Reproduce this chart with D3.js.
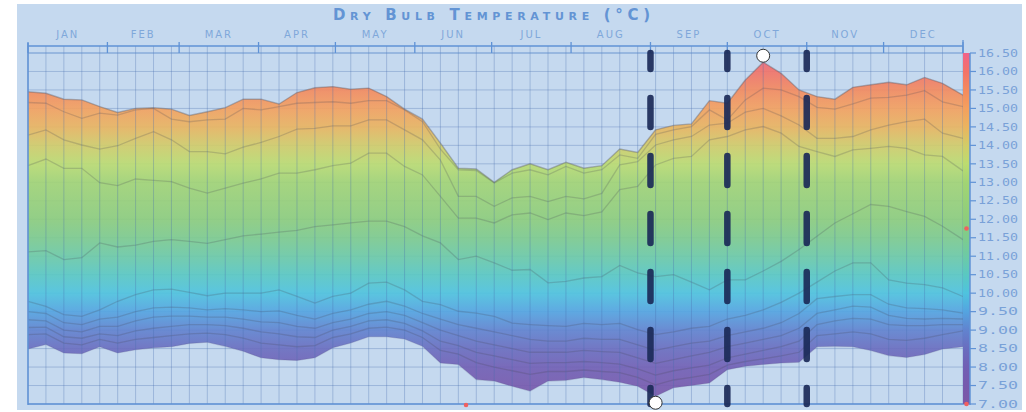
<!DOCTYPE html>
<html><head><meta charset="utf-8">
<script src="https://cdn.jsdelivr.net/npm/d3@7/dist/d3.min.js"></script>
<style>body{margin:0;background:#fff;} svg{display:block;}</style>
</head><body>
<svg id="chart" width="1026" height="412"></svg>
<script>
(function(){
// ---------- DATA ----------
const titleText = "Dry Bulb Temperature (°C)";
const months = ["JAN","FEB","MAR","APR","MAY","JUN","JUL","AUG","SEP","OCT","NOV","DEC"];
const monthStartDays = [0,31,59,90,120,151,181,212,243,273,304,334,365];
const weekDays = [0,7,14,21,28,35,42,49,56,63,70,77,84,91,98,105,112,119,126,133,140,147,154,161,168,175,182,189,196,203,210,217,224,231,238,245,252,259,266,273,280,287,294,301,308,315,322,329,336,343,350,357,365];
const yTicks = [7.0,7.5,8.0,8.5,9.0,9.5,10.0,10.5,11.0,11.5,12.0,12.5,13.0,13.5,14.0,14.5,15.0,15.5,16.0,16.5];

const maxTemp = [15.45,15.41,15.25,15.23,15.05,14.89,15.00,15.02,14.98,14.81,14.91,15.02,15.25,15.25,15.12,15.43,15.56,15.59,15.52,15.55,15.32,14.98,14.71,14.06,13.38,13.36,13.00,13.34,13.50,13.34,13.54,13.38,13.45,13.90,13.81,14.42,14.54,14.58,15.21,15.14,15.77,16.25,15.95,15.50,15.32,15.25,15.57,15.64,15.71,15.64,15.84,15.68,15.36];
const line1 = [15.16,15.14,14.91,14.73,14.87,14.82,14.96,15.00,14.71,14.64,14.69,14.71,15.00,14.96,15.05,15.14,15.16,15.18,15.14,15.21,15.21,14.96,14.64,13.90,13.34,13.32,12.98,13.25,13.34,13.20,13.43,13.25,13.34,13.74,13.65,14.30,14.42,14.51,14.96,14.69,15.23,15.55,15.50,15.32,15.03,14.98,15.12,15.28,15.30,15.36,15.48,15.18,15.05];
const line2 = [14.28,14.42,14.15,14.01,13.90,13.99,14.19,14.37,14.15,13.83,13.83,13.77,13.95,14.08,14.24,14.44,14.46,14.53,14.53,14.69,14.69,14.42,14.15,13.60,12.62,12.62,12.35,12.58,12.62,12.48,12.62,12.55,12.70,13.47,13.56,14.01,14.15,14.24,14.55,14.60,14.90,15.00,14.80,14.55,14.19,14.19,14.24,14.42,14.55,14.64,14.71,14.33,14.19];
const line3 = [13.45,13.63,13.38,13.38,12.99,12.91,13.09,13.05,13.02,12.84,12.71,12.84,12.98,13.09,13.25,13.25,13.34,13.45,13.52,13.79,13.79,13.43,13.20,12.62,12.03,12.03,11.90,12.12,12.17,11.99,12.17,12.10,12.20,12.80,12.89,13.47,13.65,13.70,14.15,14.24,14.42,14.51,14.33,13.97,13.83,13.70,13.88,13.92,13.97,13.92,13.74,13.70,13.31];
const line4 = [11.12,11.15,10.91,10.96,11.36,11.25,11.30,11.40,11.45,11.40,11.35,11.45,11.55,11.60,11.65,11.70,11.80,11.85,11.90,11.95,11.95,11.80,11.55,11.36,10.91,11.00,10.82,10.62,10.64,10.28,10.32,10.41,10.45,10.75,10.55,10.45,10.50,10.30,10.09,10.36,10.36,10.60,10.86,11.18,11.54,11.90,12.15,12.40,12.35,12.21,12.08,11.81,11.45];
const line5 = [9.78,9.64,9.42,9.37,9.55,9.78,9.96,10.09,10.11,10.02,9.93,10.00,10.00,10.00,10.09,9.91,9.73,9.91,10.00,10.27,10.30,10.09,9.78,9.69,9.51,9.46,9.37,9.19,9.15,9.12,9.10,9.18,9.15,9.18,9.01,8.88,8.95,9.05,9.10,9.30,9.40,9.55,9.75,10.00,10.30,10.60,10.82,10.82,10.36,10.27,10.23,10.14,9.91];
const line6 = [9.50,9.45,9.20,9.15,9.30,9.35,9.50,9.60,9.62,9.60,9.55,9.58,9.55,9.50,9.52,9.40,9.30,9.45,9.55,9.70,9.78,9.65,9.45,9.30,9.15,9.05,8.95,8.85,8.75,8.70,8.70,8.78,8.75,8.75,8.60,8.45,8.55,8.65,8.70,8.85,8.95,9.05,9.20,9.45,9.85,9.91,9.96,9.96,9.70,9.60,9.58,9.55,9.46];
const line7 = [9.28,9.25,9.00,8.95,9.10,9.10,9.25,9.35,9.38,9.38,9.35,9.35,9.30,9.22,9.20,9.10,9.05,9.20,9.30,9.45,9.50,9.40,9.20,9.00,8.85,8.70,8.60,8.50,8.40,8.40,8.40,8.45,8.42,8.40,8.25,8.10,8.20,8.30,8.40,8.55,8.65,8.75,8.85,9.05,9.45,9.55,9.65,9.62,9.40,9.32,9.30,9.32,9.30];
const line8 = [9.07,9.08,8.82,8.78,8.90,8.85,8.98,9.05,9.10,9.15,9.15,9.12,9.05,8.95,8.90,8.82,8.80,9.00,9.10,9.25,9.28,9.18,8.98,8.70,8.58,8.40,8.30,8.20,8.10,8.12,8.12,8.15,8.12,8.08,7.95,7.78,7.90,7.98,8.05,8.25,8.35,8.45,8.55,8.70,9.15,9.25,9.32,9.30,9.15,9.12,9.12,9.15,9.15];
const line9 = [8.88,8.90,8.65,8.60,8.75,8.65,8.75,8.80,8.85,8.90,8.92,8.88,8.78,8.65,8.60,8.55,8.58,8.80,8.90,9.05,9.08,9.00,8.80,8.45,8.35,8.12,8.00,7.90,7.80,7.88,7.88,7.92,7.88,7.85,7.72,7.52,7.65,7.72,7.80,8.05,8.15,8.22,8.30,8.40,8.85,8.90,8.95,8.90,8.75,8.72,8.78,8.88,8.98];
const minTemp = [8.49,8.61,8.38,8.36,8.55,8.38,8.47,8.52,8.55,8.64,8.67,8.56,8.43,8.25,8.20,8.18,8.25,8.52,8.65,8.82,8.82,8.76,8.56,8.11,8.07,7.66,7.62,7.48,7.35,7.62,7.64,7.72,7.66,7.59,7.48,7.21,7.44,7.50,7.57,7.93,8.02,8.07,8.11,8.13,8.55,8.56,8.55,8.45,8.31,8.26,8.34,8.49,8.55];

const innerLines = [line1,line2,line3,line4,line5,line6,line7,line8,line9];
const markerMonthIdx = [8,9,10];       // dashed lines at Sep, Oct, Nov
const highlightDays = [171];           // small red mark on time axis
const highlightValues = [11.75, 7.0];  // small red marks on color bar

const colorStops = [
  [7.0,"#7b58a6"],[7.5,"#7659ad"],[8.0,"#715fb4"],[8.5,"#6a6dbf"],[9.0,"#6183cf"],
  [9.5,"#54a4e0"],[10.0,"#4fc3de"],[10.5,"#5ac8c2"],[11.0,"#6dcaa6"],[11.5,"#7ecb8d"],
  [12.0,"#8dcd7c"],[13.0,"#a2d474"],[13.5,"#bcdc70"],[14.0,"#d2cc68"],[14.5,"#eab45f"],
  [15.0,"#f4a05e"],[15.5,"#f48a5e"],[16.0,"#f27268"],[16.5,"#f0628a"]
];

// ---------- LAYOUT ----------
const svg = d3.select("#chart");
const pLeft = 28, pRight = 963, pTop = 53, pBottom = 404;
const xDay = d3.scaleLinear().domain([0,365]).range([pLeft,pRight]);
const y = d3.scaleLinear().domain([7,16.5]).range([pBottom,pTop]);
const idx = d3.range(weekDays.length);
const xi = i => xDay(weekDays[i]);

svg.append("rect").attr("x",17).attr("y",4).attr("width",1005).attr("height",406).attr("fill","#c5d9ef");

const defs = svg.append("defs");
const grad = defs.append("linearGradient").attr("id","tempGrad")
  .attr("gradientUnits","userSpaceOnUse").attr("x1",0).attr("x2",0)
  .attr("y1",y(7)).attr("y2",y(16.5));
colorStops.forEach(([v,c]) => grad.append("stop").attr("offset",(v-7)/9.5).attr("stop-color",c));

const gridColor = "rgba(70,110,175,0.32)";
svg.append("g").selectAll("line").data(yTicks).join("line")
  .attr("x1",pLeft).attr("x2",pRight).attr("y1",d=>y(d)).attr("y2",d=>y(d))
  .attr("stroke",gridColor).attr("stroke-width",1);

const area = d3.area().x(i=>xi(i)).y0(i=>y(minTemp[i])).y1(i=>y(maxTemp[i]));
svg.append("path").datum(idx).attr("d",area).attr("fill","url(#tempGrad)").attr("fill-opacity",0.9);

const lineGen = arr => d3.line().x(i=>xi(i)).y(i=>y(arr[i]))(idx);
innerLines.forEach(arr => {
  svg.append("path").attr("d",lineGen(arr)).attr("fill","none")
    .attr("stroke","rgba(70,70,80,0.22)").attr("stroke-width",1.3);
});
svg.append("path").attr("d",lineGen(maxTemp)).attr("fill","none")
  .attr("stroke","rgba(90,90,100,0.4)").attr("stroke-width",1.4);
svg.append("path").attr("d",lineGen(minTemp)).attr("fill","none")
  .attr("stroke","rgba(90,90,140,0.25)").attr("stroke-width",1.1);

svg.append("g").selectAll("line").data(idx).join("line")
  .attr("x1",i=>xi(i)).attr("x2",i=>xi(i)).attr("y1",46).attr("y2",pBottom)
  .attr("stroke",gridColor).attr("stroke-width",1);

const axisColor = "#5f92d6";
svg.append("line").attr("x1",pLeft).attr("x2",pRight).attr("y1",46).attr("y2",46).attr("stroke",axisColor).attr("stroke-width",1.3);
svg.append("line").attr("x1",pLeft).attr("x2",pRight).attr("y1",pTop).attr("y2",pTop).attr("stroke",axisColor).attr("stroke-opacity",0.6);
svg.append("line").attr("x1",pLeft).attr("x2",pLeft).attr("y1",43).attr("y2",pBottom+1).attr("stroke",axisColor).attr("stroke-width",1.5);
svg.append("line").attr("x1",pLeft).attr("x2",970).attr("y1",pBottom).attr("y2",pBottom).attr("stroke",axisColor).attr("stroke-width",1.5);
svg.append("g").selectAll("line").data(monthStartDays).join("line")
  .attr("x1",d=>xDay(d)).attr("x2",d=>xDay(d)).attr("y1",42).attr("y2",pTop)
  .attr("stroke",axisColor).attr("stroke-width",1.3);

svg.append("g").selectAll("text").data(months).join("text")
  .attr("x",(d,i)=>(xDay(monthStartDays[i])+xDay(monthStartDays[i+1]))/2)
  .attr("y",38).attr("text-anchor","middle")
  .attr("font-family","DejaVu Sans").attr("font-size",10).attr("letter-spacing",2)
  .attr("fill","#80a8da").text(d=>d);

svg.append("text").attr("x",333).attr("y",20).attr("textLength",317).attr("lengthAdjust","spacing")
  .attr("font-family","DejaVu Sans").attr("font-weight","bold").attr("font-size",15)
  .attr("font-variant","small-caps").attr("fill","#6394d4").text(titleText);

svg.append("rect").attr("x",pRight).attr("y",pTop).attr("width",7).attr("height",pBottom-pTop).attr("fill","url(#tempGrad)");
svg.append("line").attr("x1",970).attr("x2",970).attr("y1",pTop).attr("y2",pBottom+1).attr("stroke",axisColor).attr("stroke-width",1.5);
svg.append("line").attr("x1",pRight).attr("x2",pRight).attr("y1",40).attr("y2",pTop).attr("stroke",axisColor).attr("stroke-width",1.3);
const yt = svg.append("g").selectAll("g").data(yTicks).join("g").attr("transform",d=>`translate(970,${y(d)})`);
yt.append("line").attr("x1",0).attr("x2",6).attr("stroke",axisColor).attr("stroke-width",1.2);
yt.append("text").attr("x",8).attr("dy","0.35em").attr("textLength",40).attr("lengthAdjust","spacingAndGlyphs")
  .attr("font-family","DejaVu Sans Mono").attr("font-size",10.5).attr("fill","#79a1d8")
  .text(d=>d3.format(".2f")(d));

svg.append("g").selectAll("line").data(markerMonthIdx).join("line")
  .attr("x1",m=>xDay(monthStartDays[m])).attr("x2",m=>xDay(monthStartDays[m]))
  .attr("y1",pTop).attr("y2",pBottom)
  .attr("stroke","#1b2a58").attr("stroke-opacity",0.92).attr("stroke-width",6.5)
  .attr("stroke-linecap","round").attr("stroke-dasharray","29 29").attr("stroke-dashoffset",13);

const iMax = d3.maxIndex(maxTemp), iMin = d3.minIndex(minTemp), r = 6.5;
svg.append("circle").attr("cx",xi(iMax)).attr("cy",y(maxTemp[iMax])-r).attr("r",r)
  .attr("fill","#fff").attr("stroke","#333").attr("stroke-width",1);
svg.append("circle").attr("cx",xi(iMin)).attr("cy",y(minTemp[iMin])+r).attr("r",r)
  .attr("fill","#fff").attr("stroke","#333").attr("stroke-width",1);

svg.append("g").selectAll("circle").data(highlightDays).join("circle")
  .attr("cx",d=>xDay(d)).attr("cy",pBottom+1).attr("r",2.3).attr("fill","#f06060");
svg.append("g").selectAll("circle").data(highlightValues).join("circle")
  .attr("cx",966.5).attr("cy",d=>y(d)).attr("r",2.3).attr("fill","#f06060");
})();
</script>
</body></html>
